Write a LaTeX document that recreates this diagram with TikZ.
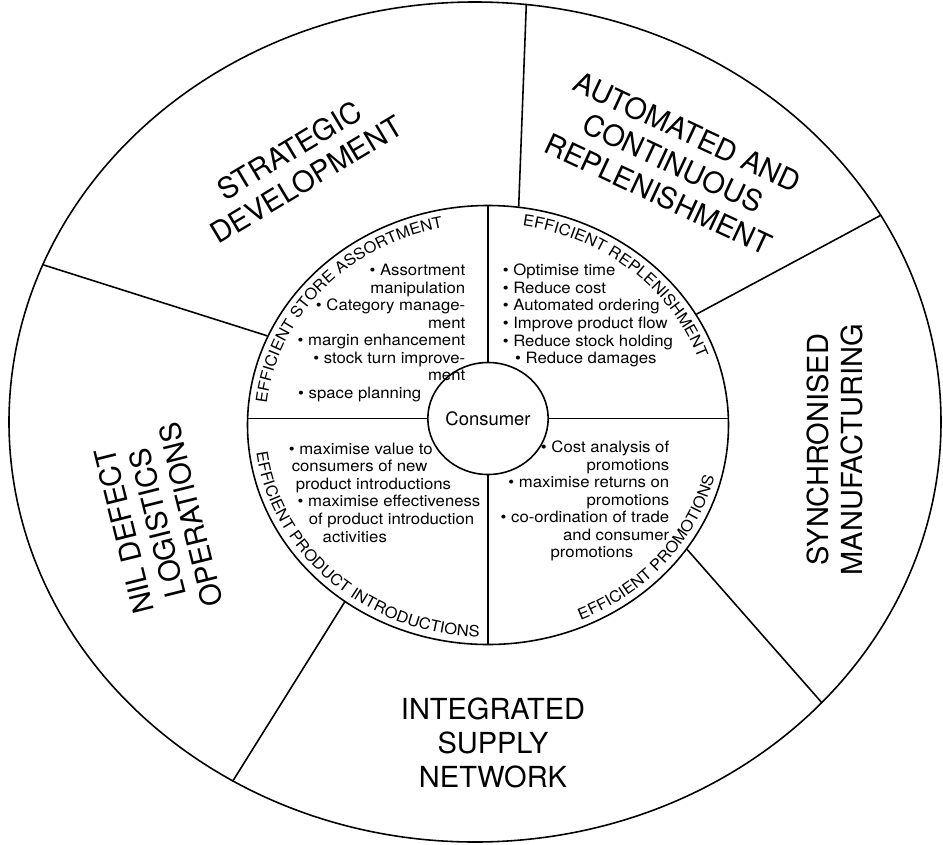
\documentclass[tikz,border=0pt]{standalone}
\usepackage{fontspec}
\setmainfont{TeX Gyre Heros}
\newfontfamily\widefont[FakeStretch=1.07]{TeX Gyre Heros}
\usepackage{tikz}
\usetikzlibrary{shapes.geometric,decorations.text}
\tikzset{every path/.style={black,line width=0.9pt}, ring/.style={draw,ellipse,inner sep=0pt},
  big/.style={font=\fontsize{16.5}{19.5}\selectfont,align=center},
  small/.style={font=\widefont\fontsize{8.9}{10}\selectfont,inner sep=0pt},
  rim/.style={decorate,decoration={text along path,text align=center,text={|\widefont\fontsize{8.8}{10}\selectfont|#1}}}}

\begin{document}
\begin{tikzpicture}
   \useasboundingbox (-9.76,-8.38) rectangle (9.10,8.50);
   \node[ring,minimum width=18.64cm,minimum height=16.8cm] (o) at (-0.26,0.06) {};
   \node[ring,minimum width=9.62cm,minimum height=8.78cm] (i) at (0,0) {};
   \node[ring,minimum width=2.36cm,minimum height=2.24cm,font=\fontsize{10.5}{12}\selectfont] (c) at (0,0.13) {Consumer};
   \draw (c.north) -- (i.north);
   \draw (c.south) -- (i.south);
   \draw (c.west) -- (c.west -| i.west);
   \draw (c.east) -- (c.east -| i.east);
   \draw (i.82)  -- (o.83);
   \draw (i.28)  -- (o.27);
   \draw (i.328) -- (o.321);
   \draw (i.231) -- (o.236);
   \draw (i.158) -- (o.160);
   \node[big,rotate=31]  (sd) at (-3.80,5.20) {STRATEGIC\\DEVELOPMENT};
   \node[big,rotate=-25] (ac) at ( 3.70,5.24) {AUTOMATED AND\\CONTINUOUS\\REPLENISHMENT};
   \node[big,rotate=90]  (sm) at ( 6.94,-0.49) {SYNCHRONISED\\MANUFACTURING};
   \node[big,rotate=104] (nd) at (-6.61,-1.96) {NIL DEFECT\\LOGISTICS\\OPERATIONS};
   \node[big]            (is) at ( 0.10,-6.36) {INTEGRATED\\SUPPLY\\NETWORK};
   \path[rim=EFFICIENT STORE ASSORTMENT] (180:4.45cm and 4.03cm) arc[start angle=180,end angle=96,x radius=4.45cm,y radius=4.03cm];
   \path[rim=EFFICIENT REPLENISHMENT] (85:4.45cm and 4.03cm) arc[start angle=85,end angle=15,x radius=4.45cm,y radius=4.03cm];
   \path[rim=EFFICIENT PRODUCT INTRODUCTIONS] (185:4.67cm and 4.25cm) arc[start angle=185,end angle=270,x radius=4.67cm,y radius=4.25cm];
   \path[rim=EFFICIENT PROMOTIONS] (-75:4.67cm and 4.25cm) arc[start angle=-75,end angle=-5,x radius=4.67cm,y radius=4.25cm];
   \node[small,align=right,anchor=east] (sa) at (-0.44,1.84)
     {\textbullet\ Assortment\\ manipulation\\ \textbullet\ Category manage-\\ ment\\ \textbullet\ margin enhancement\\
      \textbullet\ stock turn improve-\hspace*{6pt}\\ ment\hspace*{23pt}\\ \textbullet\ space planning\hspace*{25pt}};
   \node[small,align=left,anchor=west] (rp) at (0.28,2.19)
     {\textbullet\ Optimise time\\ \textbullet\ Reduce cost\\ \textbullet\ Automated ordering\\ \textbullet\ Improve product flow\\
      \textbullet\ Reduce stock holding\\ \hspace*{7pt}\textbullet\ Reduce damages};
   \node[small,align=left,anchor=west] (pi) at (-4.00,-1.35)
     {\textbullet\ maximise value to\\ \hspace*{1.7pt}consumers of new\\ \hspace*{4pt}product introductions\\
      \hspace*{5pt}\textbullet\ maximise effectiveness\\ \hspace*{11.4pt}of product introduction\\ \hspace*{19.3pt}activities};
   \node[small,align=right,anchor=east] (pr) at (3.64,-1.52)
     {\textbullet\ Cost analysis of\\ promotions\\ \textbullet\ maximise returns on\\ promotions\hspace*{2.3pt}\\
      \textbullet\ co-ordination of trade\hspace*{5pt}\\ and consumer\hspace*{9.7pt}\\ promotions\hspace*{20.5pt}};
\end{tikzpicture}
\end{document}
